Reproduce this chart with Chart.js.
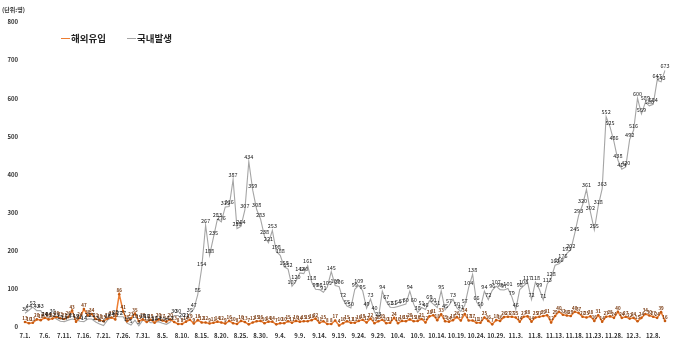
<!DOCTYPE html>
<html>
<head>
<meta charset="utf-8">
<script src="https://cdn.jsdelivr.net/npm/chart.js@4.4.1/dist/chart.umd.min.js"></script>
<style>
    html, body { margin: 0; padding: 0; background: #fff; }
    #wrap { position: relative; width: 680px; height: 349px; }
    #chart { position: absolute; left: 0; top: 0; }
    .unit { position: absolute; left: 2px; top: 5px; font: bold 6px "Noto Sans CJK KR"; color: #333; }
    .legend { position: absolute; top: 31px; font: bold 9.5px "Noto Sans CJK KR"; color: #222;
              display: flex; align-items: center; white-space: nowrap; }
    .legend i { display: inline-block; width: 9px; height: 0; border-top: 1.5px solid; margin-right: 1px; }
</style>
</head>
<body>
<div id="wrap">
    <canvas id="chart" width="680" height="349"></canvas>
    <div class="unit">(단위:명)</div>
    <div class="legend" style="left:61px"><i style="border-color:#ed7d31"></i>해외유입</div>
    <div class="legend" style="left:127px"><i style="border-color:#a5a5a5"></i>국내발생</div>
</div>
<script>
// months shown on the x axis and how many days of each are plotted
let months = [7, 8, 9, 10, 11, 12];
let monthDays = [31, 31, 30, 31, 30, 11];

let seriesNames = ['해외유입', '국내발생'];

// 국내발생 (domestic), 7.1. - 12.11.
let domestic = [
    36, 44, 52, 43, 43, 24, 24, 30, 21, 15, 14, 18, 21, 19, 15, 14, 21, 21, 13, 8, 4, 18, 24, 28, 27, 27, 10, 5, 18, 3, 18,
    18, 11, 12, 14, 10, 7, 13, 30, 30, 20, 21, 35, 47, 85, 154, 267, 188, 235, 283, 276, 315, 316, 387, 258, 264, 307, 434, 359, 308, 283, 238,
    221, 253, 198, 188, 158, 152, 107, 120, 142, 140, 161, 118, 99, 98, 91, 105, 145, 109, 106, 72, 55, 50, 99, 109, 95, 49, 73, 40, 23, 94,
    67, 52, 51, 54, 57, 60, 94, 60, 38, 51, 46, 69, 60, 51, 95, 45, 57, 73, 50, 41, 57, 104, 138, 66, 50, 94, 72, 96, 107, 98, 97,
    101, 79, 46, 98, 108, 117, 72, 118, 99, 71, 113, 128, 162, 166, 176, 193, 202, 245, 293, 320, 361, 302, 255, 318, 363, 552, 525, 486, 438, 414,
    420, 492, 516, 600, 559, 589, 580, 584, 647, 643, 673
];

// 해외유입 (imported), same days
let imported = [
    13, 10, 11, 20, 18, 24, 20, 22, 26, 23, 21, 26, 43, 14, 24, 47, 30, 34, 21, 18, 15, 22, 25, 20, 86, 41, 15, 23, 35, 15, 20,
    13, 19, 11, 20, 17, 14, 20, 13, 8, 8, 14, 19, 9, 18, 12, 12, 9, 11, 14, 12, 9, 16, 10, 8, 16, 13, 7, 12, 15, 16, 10,
    14, 14, 7, 10, 10, 15, 11, 16, 14, 15, 15, 18, 22, 11, 15, 8, 8, 17, 4, 10, 15, 11, 11, 16, 19, 12, 22, 10, 15, 19,
    10, 11, 24, 10, 16, 15, 20, 15, 16, 21, 12, 28, 31, 18, 33, 15, 14, 18, 26, 17, 34, 17, 17, 11, 11, 25, 16, 7, 18, 16, 26,
    27, 27, 25, 14, 27, 28, 14, 25, 27, 29, 31, 12, 29, 40, 32, 30, 29, 40, 37, 27, 25, 28, 16, 31, 14, 27, 28, 24, 40, 24,
    27, 22, 24, 15, 24, 34, 30, 27, 24, 39, 16
];

let yTicks = [0, 100, 200, 300, 400, 500, 600, 700, 800];
let tickEvery = 5;

let labels = [];
months.forEach((m, i) => {
    for (let d = 1; d <= monthDays[i]; d++) labels.push(m + '.' + d + '.');
});

let valueLabels = {
    id: 'valueLabels',
    afterDatasetsDraw(chart) {
        let ctx = chart.ctx;
        chart.data.datasets.forEach((ds, i) => {
            let meta = chart.getDatasetMeta(i);
            ctx.save();
            ctx.font = ds.labelFont;
            ctx.fillStyle = ds.labelColor;
            ctx.textAlign = 'center';
            ctx.textBaseline = 'bottom';
            meta.data.forEach((pt, j) => {
                ctx.fillText(ds.data[j], pt.x, pt.y - 1.5);
            });
            ctx.restore();
        });
    }
};

new Chart(document.getElementById('chart'), {
    type: 'line',
    data: {
        labels: labels,
        datasets: [
            {
                label: seriesNames[0],
                data: imported,
                borderColor: '#ed7d31',
                borderWidth: 1.5,
                pointRadius: 1.3,
                pointBackgroundColor: '#c55a11',
                pointBorderColor: '#c55a11',
                pointBorderWidth: 0,
                labelFont: 'bold 4.5px "Noto Sans CJK KR"',
                labelColor: '#7a3a10',
                tension: 0
            },
            {
                label: seriesNames[1],
                data: domestic,
                borderColor: '#a5a5a5',
                borderWidth: 1.1,
                pointRadius: 0,
                labelFont: '5.5px "Noto Sans CJK KR"',
                labelColor: '#222',
                tension: 0
            }
        ]
    },
    options: {
        responsive: false,
        animation: false,
        devicePixelRatio: 1,
        layout: { padding: { left: 0, right: 15, top: 22, bottom: 0 } },
        plugins: {
            legend: { display: false },
            tooltip: { enabled: false }
        },
        scales: {
            x: {
                offset: false,
                grid: { display: false, drawTicks: false },
                border: { display: false },
                afterFit: s => { s.height = 22; },
                ticks: {
                    autoSkip: false,
                    maxRotation: 0,
                    padding: 5,
                    color: '#333',
                    font: { family: 'Noto Sans CJK KR', size: 6, weight: 'bold' },
                    callback: function(v, i) {
                        return i % tickEvery === 0 ? this.getLabelForValue(v) : '';
                    }
                }
            },
            y: {
                min: yTicks[0],
                max: yTicks[yTicks.length - 1],
                grid: { display: false, drawTicks: false },
                border: { display: false },
                afterFit: s => { s.width = 25; },
                afterBuildTicks: s => { s.ticks = yTicks.map(v => ({ value: v })); },
                ticks: {
                    padding: 7,
                    color: '#333',
                    font: { family: 'Noto Sans CJK KR', size: 6, weight: 'bold' }
                }
            }
        }
    },
    plugins: [valueLabels]
});
</script>
</body>
</html>
